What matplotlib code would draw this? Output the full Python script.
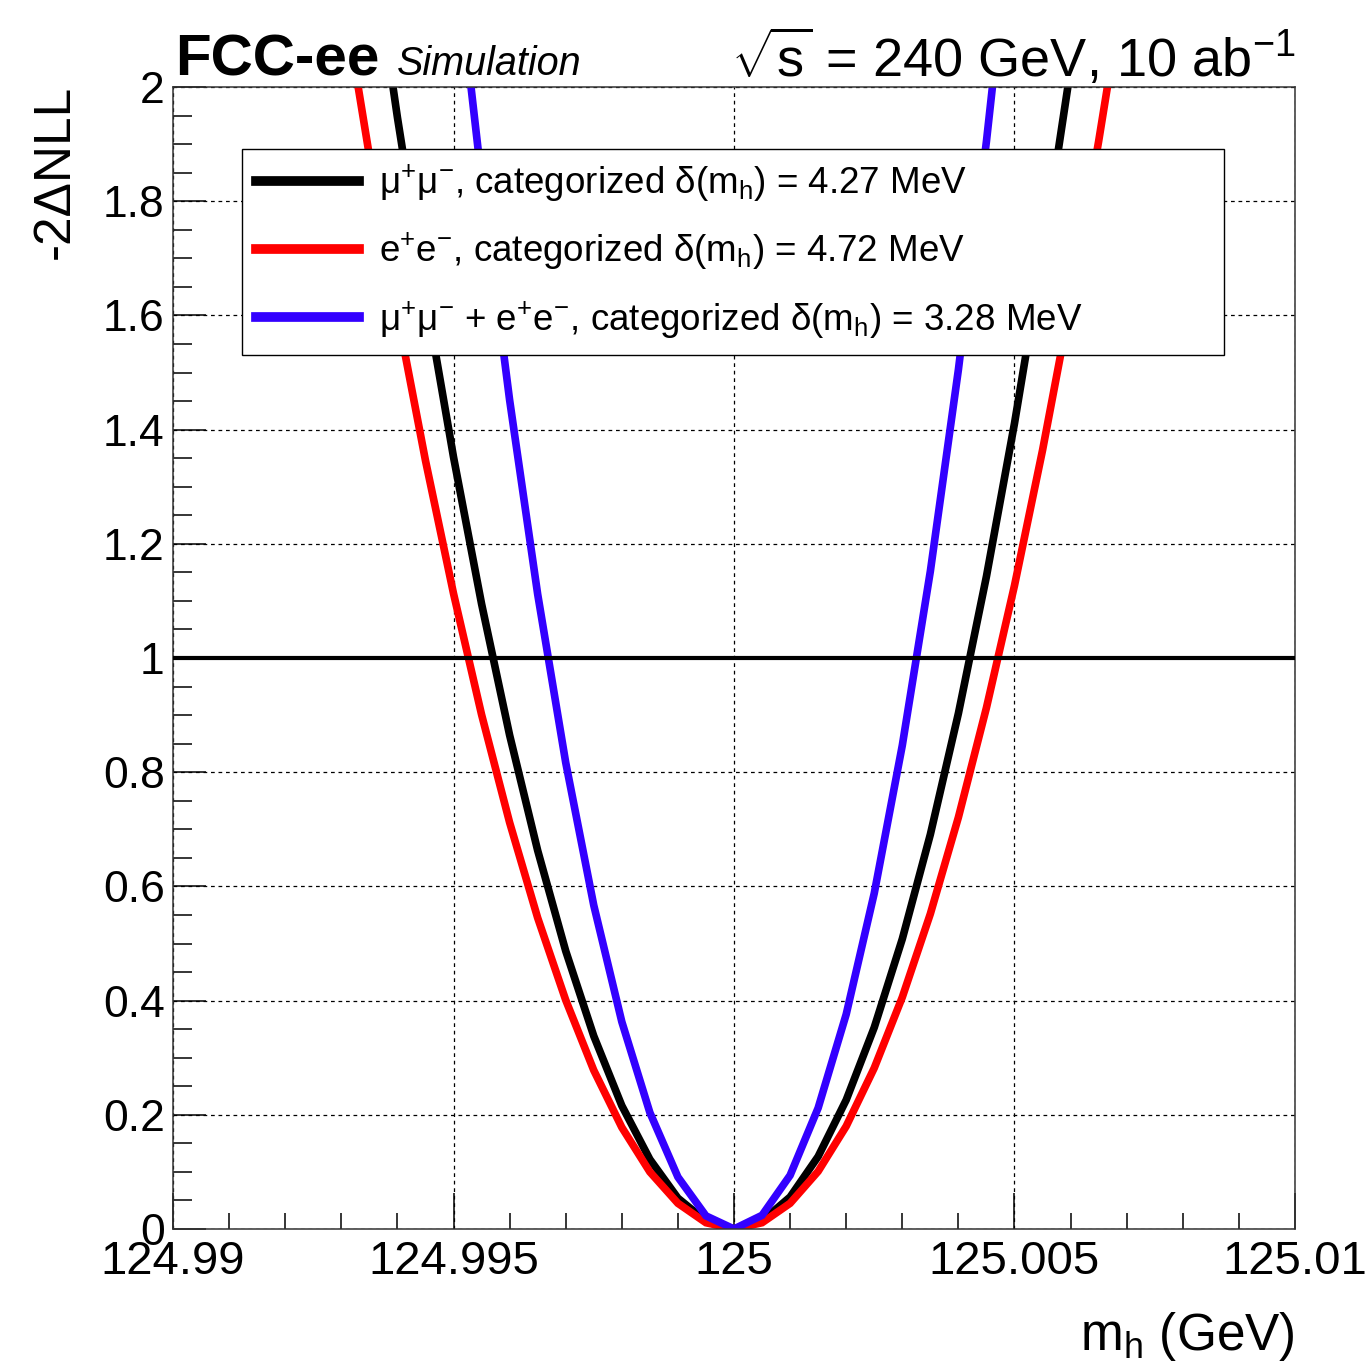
import matplotlib
matplotlib.use("Agg")
import matplotlib.pyplot as plt
from matplotlib.ticker import MultipleLocator, FixedLocator

plt.rcParams["font.family"] = ["Liberation Sans", "DejaVu Sans"]
plt.rcParams["mathtext.fontset"] = "custom"
plt.rcParams["mathtext.rm"] = "Liberation Sans"
plt.rcParams["mathtext.it"] = "Liberation Sans:italic"
plt.rcParams["mathtext.default"] = "regular"

# m_h scan points (GeV), 0.5 MeV steps
mass = [124.993, 124.9935, 124.994, 124.9945, 124.995, 124.9955, 124.996,
        124.9965, 124.997, 124.9975, 124.998, 124.9985, 124.999, 124.9995,
        125.0, 125.0005, 125.001, 125.0015, 125.002, 125.0025, 125.003,
        125.0035, 125.004, 125.0045, 125.005, 125.0055, 125.006, 125.0065,
        125.007]

# -2 Delta NLL
nll_mumu = [2.650, 2.285, 1.947, 1.636, 1.352, 1.095, 0.865, 0.663, 0.487,
            0.338, 0.216, 0.122, 0.054, 0.014, 0.0, 0.014, 0.056, 0.127,
            0.226, 0.353, 0.508, 0.691, 0.903, 1.143, 1.411, 1.707, 2.032,
            2.384, 2.765]
nll_ee = [2.181, 1.880, 1.602, 1.346, 1.113, 0.901, 0.712, 0.545, 0.401,
          0.278, 0.178, 0.100, 0.045, 0.011, 0.0, 0.011, 0.045, 0.101,
          0.180, 0.282, 0.406, 0.552, 0.721, 0.913, 1.127, 1.364, 1.623,
          1.905, 2.209]
nll_comb = [4.446, 3.834, 3.267, 2.745, 2.269, 1.838, 1.452, 1.112, 0.817,
            0.567, 0.363, 0.204, 0.091, 0.023, 0.0, 0.024, 0.094, 0.212,
            0.376, 0.588, 0.847, 1.152, 1.505, 1.905, 2.352, 2.846, 3.387,
            3.975, 4.610]

labels = [
    "μ$^{+}$μ$^{-}$, categorized δ(m$_{h}$) = 4.27 MeV",
    "e$^{+}$e$^{-}$, categorized δ(m$_{h}$) = 4.72 MeV",
    "μ$^{+}$μ$^{-}$ + e$^{+}$e$^{-}$, categorized δ(m$_{h}$) = 3.28 MeV",
]
colors = ["black", "#ff0000", "#3300ff"]

W, H = 1367, 1363
fig = plt.figure(figsize=(W / 100, H / 100), dpi=100)
ax = fig.add_axes([173 / W, 1 - 1229 / H, (1295 - 173) / W, (1229 - 87) / H])

for y, c, lab in zip([nll_mumu, nll_ee, nll_comb], colors, labels):
    ax.plot(mass, y, color=c, lw=5.5, label=lab, solid_joinstyle="miter")

ax.axhline(1, color="black", lw=3, zorder=5)

ax.set_xlim(124.99, 125.01)
ax.set_ylim(0, 2)
ax.xaxis.set_major_locator(FixedLocator([124.99, 124.995, 125.0, 125.005, 125.01]))
ax.xaxis.set_minor_locator(MultipleLocator(0.001))
ax.yaxis.set_minor_locator(MultipleLocator(0.05))
ax.set_xticklabels(["124.99", "124.995", "125", "125.005", "125.01"])
ax.set_yticks([0, 0.2, 0.4, 0.6, 0.8, 1, 1.2, 1.4, 1.6, 1.8, 2])
ax.set_yticklabels(["0", "0.2", "0.4", "0.6", "0.8", "1", "1.2", "1.4", "1.6", "1.8", "2"])

ax.tick_params(axis="x", which="major", direction="in", length=26, width=1.1,
               labelsize=34, pad=8, top=False)
ax.tick_params(axis="x", which="minor", direction="in", length=11.5, width=1.1, top=False)
ax.tick_params(axis="y", which="major", direction="in", length=24, width=1.1,
               labelsize=32, pad=6, right=False)
ax.tick_params(axis="y", which="minor", direction="in", length=13.5, width=1.1, right=False)
for s in ax.spines.values():
    s.set_linewidth(1.1)
    s.set_color("#333333")

ax.grid(True, which="major", color="black", lw=0.9, linestyle=(0, (3, 3)))
ax.set_axisbelow(True)

leg = ax.legend(loc="upper left",
                bbox_to_anchor=((242 - 173) / 1122, 0, (1224 - 242) / 1122, (1229 - 149) / 1142),
                mode="expand", fontsize=26.5, frameon=True, fancybox=False,
                edgecolor="black", framealpha=1, handlelength=2.8,
                handletextpad=0.55, labelspacing=0.73, borderpad=0.38,
                borderaxespad=0)
leg.get_frame().set_linewidth(1.0)
for lh in leg.get_lines():
    lh.set_linewidth(7)

fig.text(175 / W, 1 - 75 / H, "FCC-ee", fontsize=42, fontweight="bold",
         ha="left", va="baseline")
fig.text(397 / W, 1 - 75 / H, "Simulation", fontsize=28.5, style="italic",
         ha="left", va="baseline")
fig.text(1295 / W, 1 - 77 / H, r"$\sqrt{s}$ = 240 GeV, 10 ab$^{-1}$", fontsize=39,
         ha="right", va="baseline")

fig.text(55 / W, 1 - 85 / H, "-2ΔNLL", fontsize=37, rotation=90,
         ha="center", va="top")
fig.text(1295 / W, 1 - 1350 / H, "m$_{h}$ (GeV)", fontsize=37,
         ha="right", va="baseline")

fig.savefig("out.png", dpi=100)
